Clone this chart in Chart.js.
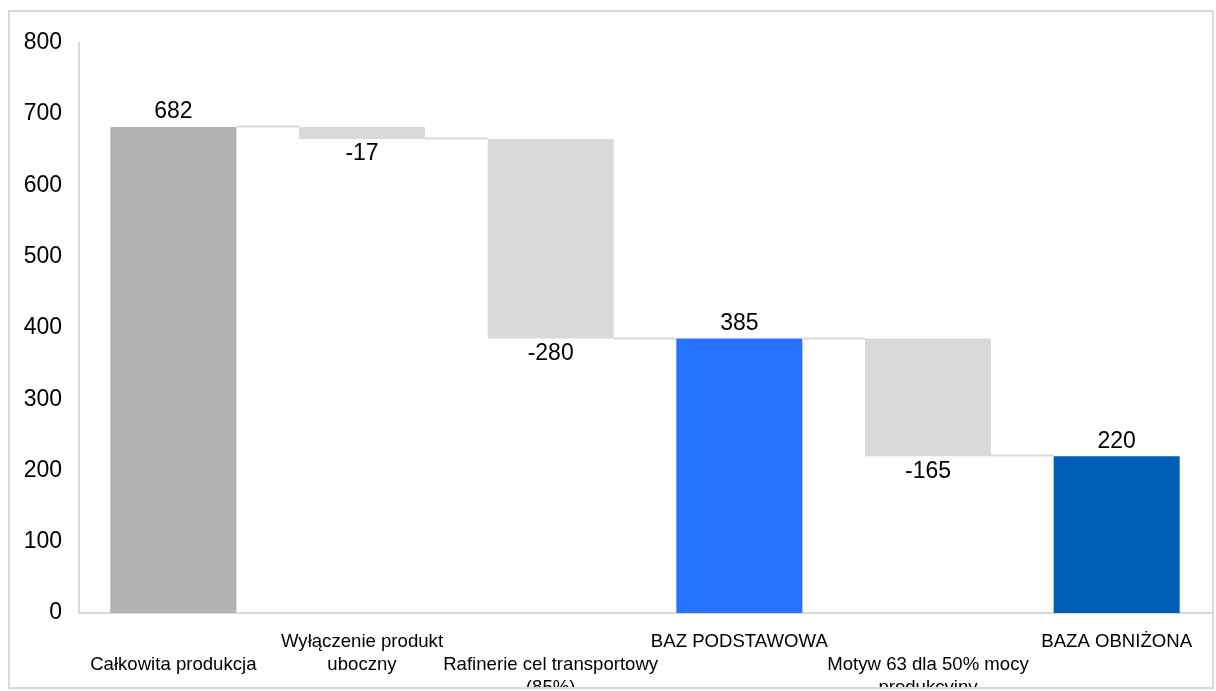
<!DOCTYPE html>
<html>
<head>
<meta charset="utf-8">
<script src="https://cdn.jsdelivr.net/npm/chart.js@4.4.1/dist/chart.umd.min.js"></script>
<style>
  html, body { margin: 0; padding: 0; background: #ffffff; }
  #frame {
    position: absolute; left: 8px; top: 10px;
    width: 1202px; height: 675px;
    border: 2px solid #d9d9d9;
    overflow: hidden;
  }
  #frame canvas { display: block; }
</style>
</head>
<body>
<div id="frame"><canvas id="waterfall" width="1202" height="675"></canvas></div>
<script>
// Kroki wodospadu: sumy i zmiany
const categories = [
  'Całkowita produkcja',
  ['Wyłączenie produkt', 'uboczny'],
  ['Rafinerie cel transportowy', '(85%)'],
  'BAZ PODSTAWOWA',
  ['Motyw 63 dla 50% mocy', 'produkcyjny'],
  'BAZA OBNIŻONA'
];
const steps = [682, -17, -280, 385, -165, 220];
const isTotal = [true, false, false, true, false, true];
const barColors = ['#b3b3b3', '#d9d9d9', '#d9d9d9', '#2672ff', '#d9d9d9', '#005eb8'];
const yTicks = { min: 0, max: 800, step: 100 };

const FONT = "'Liberation Sans', Arial, sans-serif";

// zakresy słupków pływających
let running = 0;
const ranges = steps.map((v, i) => {
  if (isTotal[i]) { running = v; return [0, v]; }
  const start = running;
  running += v;
  return [Math.min(start, running), Math.max(start, running)];
});
// poziom, na którym kończy się każdy krok (do linii łączących)
let lvl = 0;
const levels = steps.map((v, i) => (lvl = isTotal[i] ? v : lvl + v));

// linie łączące i etykiety wartości
const waterfallExtras = {
  id: 'waterfallExtras',
  afterDatasetsDraw(chart) {
    const { ctx, scales: { y } } = chart;
    const bars = chart.getDatasetMeta(0).data;
    ctx.save();
    ctx.strokeStyle = '#d9d9d9';
    ctx.lineWidth = 2;
    for (let i = 0; i < bars.length - 1; i++) {
      const py = Math.round(y.getPixelForValue(levels[i])) - 0.5;
      ctx.beginPath();
      ctx.moveTo(bars[i].x + bars[i].width / 2, py);
      ctx.lineTo(bars[i + 1].x - bars[i + 1].width / 2, py);
      ctx.stroke();
    }
    ctx.fillStyle = '#000000';
    ctx.font = '23px ' + FONT;
    ctx.textAlign = 'center';
    ctx.textBaseline = 'middle';
    bars.forEach((b, i) => {
      const [lo, hi] = ranges[i];
      if (steps[i] >= 0) {
        ctx.fillText(String(steps[i]), b.x, y.getPixelForValue(hi) - 15);
      } else {
        ctx.fillText(String(steps[i]), b.x, y.getPixelForValue(lo) + 15);
      }
    });
    ctx.restore();
  }
};

new Chart(document.getElementById('waterfall'), {
  type: 'bar',
  data: {
    labels: categories,
    datasets: [{
      data: ranges,
      backgroundColor: barColors,
      borderWidth: 0,
      categoryPercentage: 1,
      barPercentage: 0.668
    }]
  },
  options: {
    responsive: false,
    animation: false,
    layout: { padding: { top: 26, right: 1, left: 0, bottom: 0 } },
    plugins: { legend: { display: false }, tooltip: { enabled: false } },
    scales: {
      x: {
        grid: { display: false, drawTicks: false },
        border: { color: '#d9d9d9', width: 2 },
        ticks: {
          autoSkip: false,
          maxRotation: 0,
          minRotation: 0,
          padding: 17,
          color: '#000000',
          font: { family: FONT, size: 18.6, lineHeight: 1.24 },
          // co druga etykieta przesunięta o wiersz w dół
          callback(value, index) {
            const lab = categories[index];
            const lines = Array.isArray(lab) ? lab : [lab];
            return index % 2 === 0 ? [''].concat(lines) : lines;
          }
        },
        afterFit(scale) { scale.height = 74; }
      },
      y: {
        min: yTicks.min,
        max: yTicks.max,
        grid: { display: false, drawTicks: false },
        border: { color: '#d9d9d9', width: 2 },
        ticks: {
          stepSize: yTicks.step,
          padding: 17,
          color: '#000000',
          font: { family: FONT, size: 23 }
        },
        afterFit(scale) { scale.width = 69; }
      }
    }
  },
  plugins: [waterfallExtras]
});
</script>
</body>
</html>
